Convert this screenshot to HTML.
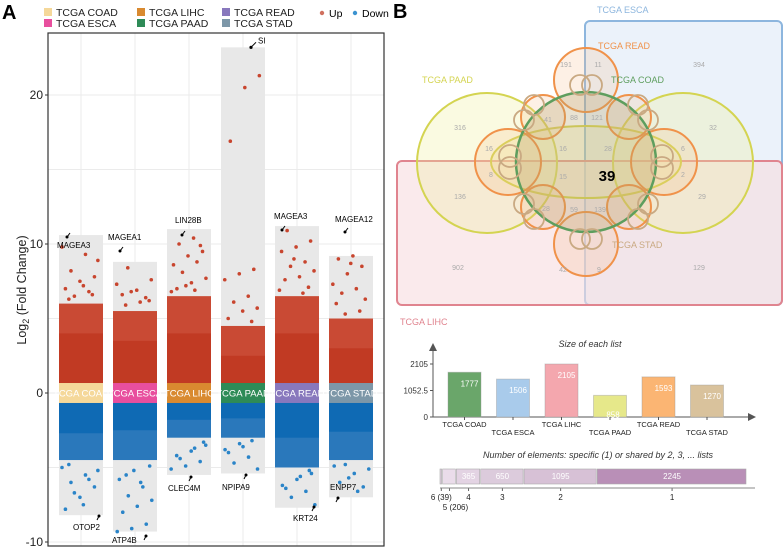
<!DOCTYPE html>
<html><head><meta charset="utf-8">
<style>
html,body{margin:0;padding:0;background:#fff;}
body{width:784px;height:549px;overflow:hidden;font-family:"Liberation Sans",sans-serif;}
svg text{font-family:"Liberation Sans",sans-serif;}
</style></head>
<body>
<svg id="root" width="784" height="549" viewBox="0 0 784 549" xmlns="http://www.w3.org/2000/svg">
  <text x="2" y="19" font-size="20" font-weight="bold">A</text>
  <text x="393" y="18" font-size="20" font-weight="bold">B</text>
  <g id="legend"></g>
  <g id="panelA"></g>
  <g id="venn">
    <rect x="585" y="21" width="197" height="284" rx="5" fill="#e3edf8" fill-opacity="0.7" stroke="#8db6de" stroke-width="2"/>
    <rect x="397" y="161" width="385" height="144" rx="5" fill="#f6dcdf" fill-opacity="0.6" stroke="#e0848f" stroke-width="2"/>
    <g fill="#eeee9a" fill-opacity="0.3" stroke="#d4d451" stroke-width="2">
      <circle cx="487" cy="163" r="70"/><circle cx="683" cy="163" r="70"/><ellipse cx="586" cy="162" rx="95" ry="36"/>
    </g>
    <g fill="#f7b98a" fill-opacity="0.22" stroke="#f0924a" stroke-width="2">
      <circle cx="586" cy="80" r="32"/><circle cx="586" cy="244" r="32"/><circle cx="508" cy="162" r="33"/><circle cx="664" cy="162" r="33"/>
      <circle cx="543" cy="117" r="22"/><circle cx="629" cy="117" r="22"/><circle cx="543" cy="207" r="22"/><circle cx="629" cy="207" r="22"/>
    </g>
    <circle cx="586" cy="162" r="70" fill="#b5a26a" fill-opacity="0.3" stroke="#5e9e5e" stroke-width="2.5"/>
    <g fill="none" stroke="#c9a982" stroke-width="1.8">
      <circle cx="580" cy="85" r="10"/><circle cx="592" cy="85" r="10"/><circle cx="580" cy="239" r="10"/><circle cx="592" cy="239" r="10"/>
      <circle cx="510" cy="156" r="11"/><circle cx="510" cy="168" r="11"/><circle cx="662" cy="156" r="11"/><circle cx="662" cy="168" r="11"/>
      <circle cx="534" cy="105" r="10"/><circle cx="524" cy="120" r="10"/><circle cx="638" cy="105" r="10"/><circle cx="648" cy="120" r="10"/>
      <circle cx="524" cy="204" r="10"/><circle cx="534" cy="219" r="10"/><circle cx="648" cy="204" r="10"/><circle cx="638" cy="219" r="10"/>
    </g>
    <g font-size="7" fill="#aaa" text-anchor="middle">
      <text x="460" y="130">316</text><text x="713" y="130">32</text><text x="460" y="199">136</text><text x="702" y="199">29</text>
      <text x="458" y="270">902</text><text x="699" y="270">129</text><text x="699" y="67">394</text>
      <text x="566" y="67">191</text><text x="598" y="67">11</text><text x="563" y="272">42</text><text x="599" y="272">9</text>
      <text x="489" y="151">16</text><text x="683" y="151">6</text><text x="491" y="177">8</text><text x="683" y="177">2</text>
      <text x="563" y="151">16</text><text x="608" y="151">28</text><text x="563" y="179">15</text><text x="574" y="120">88</text><text x="597" y="120">121</text>
      <text x="574" y="212">59</text><text x="600" y="212">139</text><text x="548" y="122">41</text><text x="546" y="211">28</text>
    </g>
    <text x="607" y="181" font-size="15" font-weight="bold" text-anchor="middle">39</text>
    <g font-size="9">
      <text x="597" y="13" fill="#8db6de">TCGA ESCA</text>
      <text x="598" y="49" fill="#f0924a">TCGA READ</text>
      <text x="422" y="83" fill="#d4d451">TCGA PAAD</text>
      <text x="611" y="83" fill="#5e9e5e">TCGA COAD</text>
      <text x="612" y="248" fill="#c9a982">TCGA STAD</text>
      <text x="400" y="325" fill="#e0848f">TCGA LIHC</text>
    </g>
  </g>
  <g id="sizeChart"></g>
  <g id="shareChart"></g>
</svg>
<script>
const NS='http://www.w3.org/2000/svg';
function mk(tag,attrs,parent,txt){const e=document.createElementNS(NS,tag);for(const k in attrs)e.setAttribute(k,attrs[k]);if(txt!==undefined)e.textContent=txt;parent.appendChild(e);return e;}

/* ---------- Panel A data ---------- */
const categories=['TCGA COAD','TCGA ESCA','TCGA LIHC','TCGA PAAD','TCGA READ','TCGA STAD'];
const catColors=['#f5d89a','#e84f9e','#d98a30','#2e8b57','#8878bd','#7d97a8'];
const boxTop=[10.6,8.8,11.0,23.2,11.2,9.2];
const boxBottom=[-8.2,-9.3,-5.5,-5.4,-7.7,-7.0];
const upCore=[4.0,3.5,4.0,2.5,4.0,3.0];
const upSemi=[6.0,5.5,6.5,4.5,6.5,5.0];
const downCore=[-2.7,-2.5,-1.8,-1.7,-3.0,-2.6];
const downSemi=[-4.5,-4.5,-3.0,-3.0,-5.0,-4.5];
const upOutliers=[
 [9.8,9.3,8.2,7.8,7.5,7.0,6.8,6.5,8.9,7.2,6.3,6.6],
 [8.4,7.6,6.9,6.6,6.4,6.8,7.3,6.1,5.9,6.2],
 [10.4,10.0,9.5,9.2,8.6,8.8,8.1,7.7,7.4,7.0,9.9,7.2,6.8,6.9],
 [21.3,20.5,16.9,8.3,8.0,7.6,6.5,6.1,5.7,5.5,5.0,4.8],
 [10.9,10.2,9.8,9.5,8.8,8.5,8.2,7.8,7.6,7.1,9.0,6.9,6.7],
 [9.2,9.0,8.5,8.0,7.3,7.0,6.7,6.3,8.7,6.0,5.5,5.3]];
const downOutliers=[
 [-5.0,-5.5,-6.0,-6.3,-7.0,-7.8,-5.8,-6.7,-5.2,-7.5,-4.8],
 [-5.2,-5.8,-6.3,-6.9,-7.2,-7.6,-8.0,-8.8,-9.1,-9.3,-6.0,-5.5,-4.9],
 [-3.5,-3.9,-4.2,-4.6,-4.9,-5.1,-3.7,-4.4,-3.3],
 [-3.4,-3.8,-4.3,-4.7,-5.1,-3.6,-4.0,-3.2],
 [-5.4,-5.8,-6.2,-6.6,-7.0,-7.5,-5.6,-6.4,-5.2],
 [-4.8,-5.1,-5.4,-6.0,-6.3,-5.7,-4.9,-6.6]];
const yTicks=[-10,0,10,20];
const yGrid=[-10,-5,0,5,10,15,20];
const upGenes=['MAGEA3','MAGEA1','LIN28B','SI','MAGEA3','MAGEA12'];
const downGenes=['OTOP2','ATP4B','CLEC4M','NPIPA9','KRT24','ENPP7'];

const P={l:48,r:384,t:33,b:546};
const yv=v=>393-v*14.9;
const xc=i=>81+i*54;
const colW=44;

(function(){
 const g=document.getElementById('panelA');
 const lg=document.getElementById('legend');
 categories.forEach((c,i)=>{
   const col=Math.floor(i/2),row=i%2;
   const x=[44,137,222][col],y=8+row*11;
   const r=mk('rect',{x:x,y:y,width:8,height:8,fill:catColors[i]},lg);
   
   
   const t=mk('text',{x:x+12,y:y+8,'font-size':10.5,fill:'#222'},lg,c);
   
   
 });
 mk('circle',{cx:322,cy:13,r:2.2,fill:'#d0705f'},lg);
 mk('text',{x:329,y:17,'font-size':10.5},lg,'Up');
 mk('circle',{cx:355,cy:13,r:2.2,fill:'#3c93d0'},lg);
 mk('text',{x:362,y:17,'font-size':10.5},lg,'Down');

 mk('rect',{x:P.l,y:P.t,width:P.r-P.l,height:P.b-P.t,fill:'#fff'},g);
 yGrid.forEach(v=>{mk('line',{x1:P.l,x2:P.r,y1:yv(v),y2:yv(v),stroke:'#ebebeb','stroke-width':1},g);});
 categories.forEach((c,i)=>{mk('line',{x1:xc(i),x2:xc(i),y1:P.t,y2:P.b,stroke:'#ebebeb','stroke-width':1},g);});
 categories.forEach((c,i)=>{
   const x0=xc(i)-colW/2;
   const bx=mk('rect',{x:x0,y:yv(boxTop[i]),width:colW,height:yv(boxBottom[i])-yv(boxTop[i]),fill:'#e8e8e8'},g);
   
   
   mk('rect',{x:x0,y:yv(upSemi[i]),width:colW,height:yv(0)-yv(upSemi[i]),fill:'#c94a34'},g);
   const uc=mk('rect',{x:x0,y:yv(upCore[i]),width:colW,height:yv(0)-yv(upCore[i]),fill:'#c13a23'},g);
   
   
   mk('rect',{x:x0,y:yv(0),width:colW,height:yv(downSemi[i])-yv(0),fill:'#2a78bb'},g);
   const dc=mk('rect',{x:x0,y:yv(0),width:colW,height:yv(downCore[i])-yv(0),fill:'#0f6ab4'},g);
   
   
   upOutliers[i].forEach((v,k)=>{
     const p=mk('circle',{cx:x0+3+((k*0.618+i*0.31)%1)*(colW-6),cy:yv(v),r:1.8,fill:'#c8452e'},g);
     
     
   });
   downOutliers[i].forEach((v,k)=>{
     const p=mk('circle',{cx:x0+3+((k*0.618+i*0.47)%1)*(colW-6),cy:yv(v),r:1.8,fill:'#2a84c8'},g);
     
     
   });
   const s=mk('rect',{x:x0,y:yv(0.67),width:colW,height:yv(-0.67)-yv(0.67),fill:catColors[i]},g);
   
   
   mk('text',{x:xc(i),y:yv(0)+3.5,'font-size':9.5,fill:'#fff','text-anchor':'middle'},g,c);
   if(i===3){
     mk('line',{x1:251,y1:yv(boxTop[i]),x2:256,y2:yv(boxTop[i])-5,stroke:'#000','stroke-width':1},g);
     mk('circle',{cx:251,cy:yv(boxTop[i]),r:1.6,fill:'#000'},g);
     mk('text',{x:258,y:yv(boxTop[i])-4,'font-size':8},g,upGenes[i]);
   } else {
     const gx=[57,108,175,0,274,335][i], gy=[248,240,223,0,219,222][i];
     const px=[67,120,182,0,282,345][i], py=[237,251,235,0,230,232][i];
     mk('line',{x1:px,y1:py,x2:px+3,y2:py-4,stroke:'#000','stroke-width':1},g);
     mk('circle',{cx:px,cy:py,r:1.5,fill:'#000'},g);
     const ut=mk('text',{x:gx,y:gy,'font-size':8},g,upGenes[i]);
     
     
   }
   const dgx=[73,112,168,222,293,330][i], dgy=[530,543,491,490,521,490][i];
   const dpx=[99,146,191,246,314,338][i], dpy=[516,536,477,475,507,498][i];
   mk('line',{x1:dpx,y1:dpy,x2:dpx-2,y2:dpy+4,stroke:'#000','stroke-width':1},g);
   mk('circle',{cx:dpx,cy:dpy,r:1.5,fill:'#000'},g);
   const dt=mk('text',{x:dgx,y:dgy,'font-size':8},g,downGenes[i]);
   
   
 });
 mk('rect',{x:P.l,y:P.t,width:P.r-P.l,height:P.b-P.t,fill:'none',stroke:'#333','stroke-width':1.2},g);
 yTicks.forEach(v=>{
   mk('line',{x1:P.l-3,x2:P.l,y1:yv(v),y2:yv(v),stroke:'#333'},g);
   const t=mk('text',{x:P.l-5,y:yv(v)+4,'font-size':12,'text-anchor':'end',fill:'#222'},g,String(v));
   
   
 });
 const yt=mk('text',{transform:'translate(26,290) rotate(-90)','font-size':12.5,'text-anchor':'middle',fill:'#222'},g);
 
 
 yt.innerHTML='Log<tspan font-size="9" dy="3">2</tspan><tspan dy="-3"> (Fold Change)</tspan>';
})();

/* ---------- Size of each list ---------- */
const listNames=['TCGA COAD','TCGA ESCA','TCGA LIHC','TCGA PAAD','TCGA READ','TCGA STAD'];
const listSizes=[1777,1506,2105,858,1593,1270];
const listColors=['#6aa66a','#a9cbeb','#f4a7ae','#e6e88a','#fbb573','#d9c29c'];
const sizeTicks=[0,1052.5,2105];
(function(){
 const g=document.getElementById('sizeChart');
 const base=417, h=53/2105, x0=448, step=48.5, bw=33;
 const sy=v=>base-v*h;
 mk('text',{x:590,y:347,'font-size':9,'font-style':'italic','text-anchor':'middle',fill:'#333'},g,'Size of each list');
 mk('line',{x1:433,y1:base,x2:433,y2:349,stroke:'#555'},g);
 mk('path',{d:'M429,351 L433,343 L437,351 Z',fill:'#555'},g);
 mk('line',{x1:433,y1:base,x2:750,y2:base,stroke:'#555'},g);
 mk('path',{d:'M748,413 L756,417 L748,421 Z',fill:'#555'},g);
 sizeTicks.forEach(v=>{
   mk('line',{x1:430,x2:433,y1:sy(v),y2:sy(v),stroke:'#555'},g);
   mk('text',{x:428,y:sy(v)+3,'font-size':8,'text-anchor':'end',fill:'#333'},g,String(v));
 });
 listSizes.forEach((v,i)=>{
   const x=x0+i*step;
   const b=mk('rect',{x:x,y:sy(v),width:bw,height:base-sy(v),fill:listColors[i],stroke:'#999','stroke-opacity':0.4},g);
   
   
   mk('text',{x:x+bw/2+(i===3?3:5),y:sy(v)+(i===3?22:14),'font-size':8,fill:'#fff','text-anchor':'middle'},g,String(v));
   mk('line',{x1:x+bw/2,x2:x+bw/2,y1:base,y2:base+3,stroke:'#555'},g);
   const t=mk('text',{x:x+bw/2,y:base+(i%2?18:10),'font-size':7.5,'text-anchor':'middle',fill:'#222'},g,listNames[i]);
   
   
 });
})();

/* ---------- Shared elements ---------- */
const shareDegrees=['6','5','4','3','2','1'];
const shareCounts=[39,206,365,650,1095,2245];
const shareColors=['#e0d0e0','#eadcea','#e3d3e3','#dccbdc','#d7c1d6','#b98fb7'];
const shareLabels=['6 (39)','5 (206)','4','3','2','1'];
(function(){
 const g=document.getElementById('shareChart');
 const total=shareCounts.reduce((a,b)=>a+b,0);
 const X0=440, W=307, y=469, hgt=15;
 mk('text',{x:598,y:458,'font-size':9,'font-style':'italic','text-anchor':'middle',fill:'#333'},g,'Number of elements: specific (1) or shared by 2, 3, ... lists');
 let acc=0;
 shareCounts.forEach((v,i)=>{
   const x=X0+acc/total*W, w=v/total*W; acc+=v;
   const r=mk('rect',{x:x,y:y,width:Math.max(w-1,1),height:hgt,fill:shareColors[i],stroke:'#aaa','stroke-width':0.6},g);
   
   
   if(v>300) mk('text',{x:x+w/2,y:y+10,'font-size':8,fill:'#fff','text-anchor':'middle'},g,String(v));
   mk('line',{x1:x+w/2,x2:x+w/2,y1:488,y2:491,stroke:'#666'},g);
   const lx=i===1?x+w/2+6:x+w/2;
   mk('text',{x:lx,y:i===1?510:500,'font-size':8,'text-anchor':'middle',fill:'#222'},g,shareLabels[i]);
 });
 mk('line',{x1:X0,x2:755,y1:488,y2:488,stroke:'#888'},g);
})();
</script>
</body></html>
